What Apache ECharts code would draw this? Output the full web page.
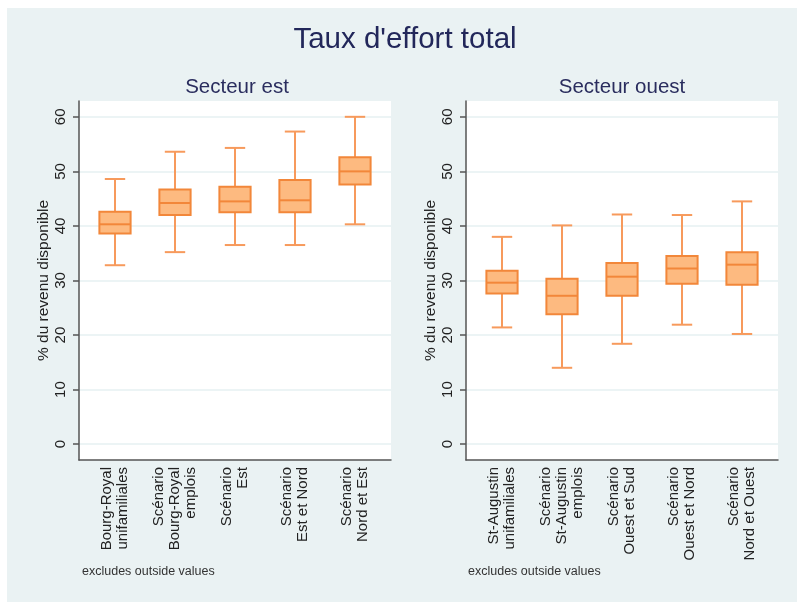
<!DOCTYPE html>
<html>
<head>
<meta charset="utf-8">
<script src="https://cdn.jsdelivr.net/npm/echarts@6/dist/echarts.min.js"></script>
<style>
html,body{margin:0;padding:0;background:#ffffff;}
#bg{position:absolute;left:7px;top:8px;width:790px;height:594px;background:#EAF2F3;}
#chart{position:absolute;left:0;top:0;width:797px;height:602px;}
</style>
</head>
<body>
<div id="bg"></div>
<div id="chart"></div>
<script>
// ---- data ----
const eastCategories = ['Bourg-Royal\nunifamiliales', 'Scénario\nBourg-Royal\nemplois', 'Scénario\nEst', 'Scénario\nEst et Nord', 'Scénario\nNord et Est'];
const westCategories = ['St-Augustin\nunifamiliales', 'Scénario\nSt-Augustin\nemplois', 'Scénario\nOuest et Sud', 'Scénario\nOuest et Nord', 'Scénario\nNord et Ouest'];
// [lower whisker, Q1, median, Q3, upper whisker]
const eastLow    = [32.8, 35.2, 36.5, 36.5, 40.3];
const eastQ1     = [38.6, 42.0, 42.5, 42.5, 47.6];
const eastMedian = [40.3, 44.2, 44.5, 44.7, 50.0];
const eastQ3     = [42.6, 46.7, 47.2, 48.4, 52.6];
const eastHigh   = [48.6, 53.6, 54.3, 57.3, 60.0];
const westLow    = [21.4, 14.0, 18.4, 21.9, 20.2];
const westQ1     = [27.6, 23.8, 27.2, 29.4, 29.2];
const westMedian = [29.6, 27.2, 30.7, 32.2, 32.9];
const westQ3     = [31.8, 30.3, 33.2, 34.5, 35.2];
const westHigh   = [38.0, 40.1, 42.1, 42.0, 44.5];
const yTicks = [0, 10, 20, 30, 40, 50, 60];
const mainTitle = "Taux d'effort total";
const panelTitles = ['Secteur est', 'Secteur ouest'];
const yAxisTitle = '% du revenu disponible';
const footNote = 'excludes outside values';

// ---- build ----
function build(low, q1, med, q3, high) {
  return low.map((v, i) => [i, v, q1[i], med[i], q3[i], high[i]]);
}
const boxFill = '#FDBA80';
const boxLine = '#F2873A';
const whiskerLine = '#F79A5C';

function renderBox(params, api) {
  const x = api.value(0);
  const lo = api.coord([x, api.value(1)]);
  const q1 = api.coord([x, api.value(2)]);
  const md = api.coord([x, api.value(3)]);
  const q3 = api.coord([x, api.value(4)]);
  const hi = api.coord([x, api.value(5)]);
  const bw = api.size([0.52, 0])[0];
  const cw = api.size([0.34, 0])[0];
  const cx = lo[0];
  const ws = {stroke: whiskerLine, lineWidth: 2};
  return {
    type: 'group',
    children: [
      {type: 'line', shape: {x1: cx, y1: lo[1], x2: cx, y2: q1[1]}, style: ws},
      {type: 'line', shape: {x1: cx, y1: q3[1], x2: cx, y2: hi[1]}, style: ws},
      {type: 'line', shape: {x1: cx - cw / 2, y1: lo[1], x2: cx + cw / 2, y2: lo[1]}, style: ws},
      {type: 'line', shape: {x1: cx - cw / 2, y1: hi[1], x2: cx + cw / 2, y2: hi[1]}, style: ws},
      {type: 'rect', shape: {x: cx - bw / 2, y: q3[1], width: bw, height: q1[1] - q3[1]},
        style: {fill: boxFill, stroke: boxLine, lineWidth: 2}},
      {type: 'line', shape: {x1: cx - bw / 2, y1: md[1], x2: cx + bw / 2, y2: md[1]},
        style: {stroke: boxLine, lineWidth: 2}}
    ]
  };
}

const font = '"Liberation Sans", Arial, sans-serif';
function xAxisDef(gi, cats) {
  return {
    type: 'value', gridIndex: gi, min: -0.6, max: 4.6,
    axisLine: {show: true, onZero: false, lineStyle: {color: '#555', width: 1.5}},
    axisTick: {show: false},
    splitLine: {show: false},
    axisLabel: {
      customValues: [0, 1, 2, 3, 4], rotate: 90, margin: 7,
      formatter: v => cats[Math.round(v)] || '',
      fontFamily: font, fontSize: 15, lineHeight: 16, color: '#222'
    }
  };
}
function yAxisDef(gi) {
  return {
    type: 'value', gridIndex: gi, min: -2.9, max: 62.9,
    name: yAxisTitle, nameLocation: 'middle', nameGap: 27, nameRotate: 90,
    nameTextStyle: {fontFamily: font, fontSize: 15.5, color: '#222'},
    axisLine: {show: true, onZero: false, lineStyle: {color: '#555', width: 1.5}},
    axisTick: {show: true, customValues: yTicks, length: 6, lineStyle: {color: '#555', width: 1.5}},
    splitLine: {show: true, lineStyle: {color: '#E6F0F2', width: 1.5}},
    axisLabel: {customValues: yTicks, rotate: 90, margin: 11, fontFamily: font, fontSize: 15, color: '#222'}
  };
}

const chart = echarts.init(document.getElementById('chart'), null, {renderer: 'canvas'});
chart.setOption({
  backgroundColor: 'transparent',
  animation: false,
  title: [
    {text: mainTitle, left: 405, textAlign: 'center', top: 25, padding: 0,
      textStyle: {fontFamily: font, fontSize: 29.5, fontWeight: 'normal', color: '#22275A'}},
    {text: panelTitles[0], left: 237, textAlign: 'center', top: 77, padding: 0,
      textStyle: {fontFamily: font, fontSize: 20.5, fontWeight: 'normal', color: '#2A2D5E'}},
    {text: panelTitles[1], left: 622, textAlign: 'center', top: 77, padding: 0,
      textStyle: {fontFamily: font, fontSize: 20.5, fontWeight: 'normal', color: '#2A2D5E'}},
    {text: footNote, left: 82, top: 565, padding: 0,
      textStyle: {fontFamily: font, fontSize: 12.5, fontWeight: 'normal', color: '#333'}},
    {text: footNote, left: 468, top: 565, padding: 0,
      textStyle: {fontFamily: font, fontSize: 12.5, fontWeight: 'normal', color: '#333'}}
  ],
  grid: [
    {left: 79, top: 101, width: 312, height: 359, show: true, backgroundColor: '#ffffff', borderWidth: 0},
    {left: 466, top: 101, width: 312, height: 359, show: true, backgroundColor: '#ffffff', borderWidth: 0}
  ],
  xAxis: [xAxisDef(0, eastCategories), xAxisDef(1, westCategories)],
  yAxis: [yAxisDef(0), yAxisDef(1)],
  series: [
    {type: 'custom', xAxisIndex: 0, yAxisIndex: 0, renderItem: renderBox,
      encode: {x: 0, y: [1, 2, 3, 4, 5]}, data: build(eastLow, eastQ1, eastMedian, eastQ3, eastHigh)},
    {type: 'custom', xAxisIndex: 1, yAxisIndex: 1, renderItem: renderBox,
      encode: {x: 0, y: [1, 2, 3, 4, 5]}, data: build(westLow, westQ1, westMedian, westQ3, westHigh)}
  ]
});
</script>
</body>
</html>
